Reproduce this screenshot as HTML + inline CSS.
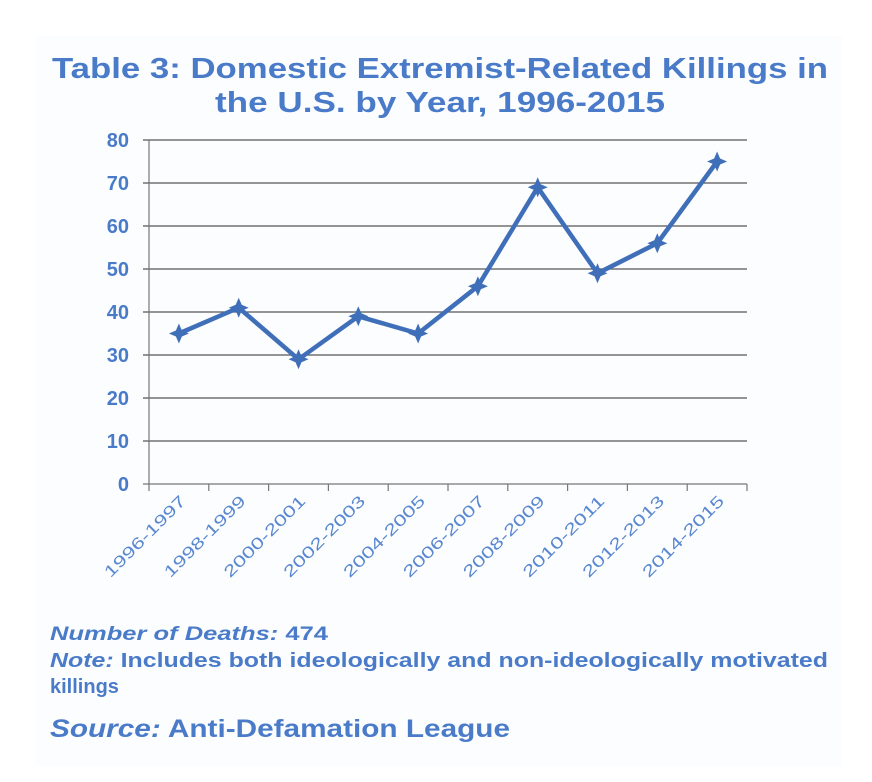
<!DOCTYPE html>
<html><head><meta charset="utf-8"><style>
html,body{margin:0;padding:0;background:#fff;}
svg{display:block;font-family:"Liberation Sans",Arial,sans-serif;}
</style></head><body>
<svg width="872" height="782" viewBox="0 0 872 782">
<rect x="0" y="0" width="872" height="782" fill="#fff"/>
<rect x="36" y="36" width="806" height="730" fill="#fcfdff"/>
<g fill="#4a7bc9" font-weight="bold">
<text x="440" y="78" font-size="29" text-anchor="middle" textLength="776" lengthAdjust="spacingAndGlyphs">Table 3: Domestic Extremist-Related Killings in</text>
<text x="440" y="112" font-size="29" text-anchor="middle" textLength="450" lengthAdjust="spacingAndGlyphs">the U.S. by Year, 1996-2015</text>
</g>
<g id="grid"></g>
<g id="xaxis"></g>
<g id="series"></g>
<g fill="#4a7bc9" font-weight="bold">
<text x="50" y="640" font-size="19" textLength="278" lengthAdjust="spacingAndGlyphs"><tspan font-style="italic">Number of Deaths:</tspan> 474</text>
<text x="50" y="667" font-size="20" textLength="778" lengthAdjust="spacingAndGlyphs"><tspan font-style="italic">Note:</tspan> Includes both ideologically and non-ideologically motivated</text>
<text x="50" y="693" font-size="20">killings</text>
<text x="50" y="737" font-size="25" textLength="460" lengthAdjust="spacingAndGlyphs"><tspan font-style="italic">Source:</tspan> Anti-Defamation League</text>
</g>
</svg>
<script>
const categories = ["1996-1997","1998-1999","2000-2001","2002-2003","2004-2005","2006-2007","2008-2009","2010-2011","2012-2013","2014-2015"];
const killings = [35, 41, 29, 39, 35, 46, 69, 49, 56, 75];
const yTicks = [0,10,20,30,40,50,60,70,80];
const NS="http://www.w3.org/2000/svg";
const L=149,R=747,T=140,B=484,yMax=80;
const band=(R-L)/categories.length;
function xPos(i){return L+band*(i+0.5);}
function yPos(v){return B-(v/yMax)*(B-T);}
function mk(tag,attrs,parent){const e=document.createElementNS(NS,tag);for(const k in attrs)e.setAttribute(k,attrs[k]);parent.appendChild(e);return e;}
const grid=document.getElementById('grid');
yTicks.forEach(v=>{
  const ln=mk('line',{x1:L-6,x2:R,y1:yPos(v),y2:yPos(v),stroke:v===0?'#777':'#555','stroke-width':1.2},grid);
  
  
  const t=mk('text',{x:129,y:yPos(v)+7,'text-anchor':'end','font-size':20,'font-weight':'bold',fill:'#4a7bc9'},grid);
  t.textContent=v;
  
  
});
const ax=document.getElementById('xaxis');
const yl=mk('line',{x1:L,x2:L,y1:T,y2:B,stroke:'#777','stroke-width':1.2},ax);


for(let i=0;i<=categories.length;i++){
  const tk=mk('line',{x1:L+band*i,x2:L+band*i,y1:B,y2:B+7,stroke:'#777','stroke-width':1.2},ax);
  
  
}
categories.forEach((c,i)=>{
  const x=xPos(i)+8,y=B+18;
  const t=mk('text',{x:x,y:y,'text-anchor':'end','font-size':16,fill:'#5a88d0',textLength:108,lengthAdjust:'spacingAndGlyphs',transform:`rotate(-45 ${x} ${y})`},ax);
  t.textContent=c;
  
  
});
const s=document.getElementById('series');
const pts=killings.map((v,i)=>xPos(i)+','+yPos(v)).join(' ');
const pl=mk('polyline',{points:pts,fill:'none',stroke:'#3f6fb8','stroke-width':4.5,'stroke-linejoin':'miter'},s);


killings.forEach((v,i)=>{
  const x=xPos(i),y=yPos(v),r=10,q=3;
  const m=mk('polygon',{points:`${x},${y-r} ${x+q},${y-q} ${x+r},${y} ${x+q},${y+q} ${x},${y+r} ${x-q},${y+q} ${x-r},${y} ${x-q},${y-q}`,fill:'#3f6fb8'},s);
  
  
});
</script>
</body></html>
